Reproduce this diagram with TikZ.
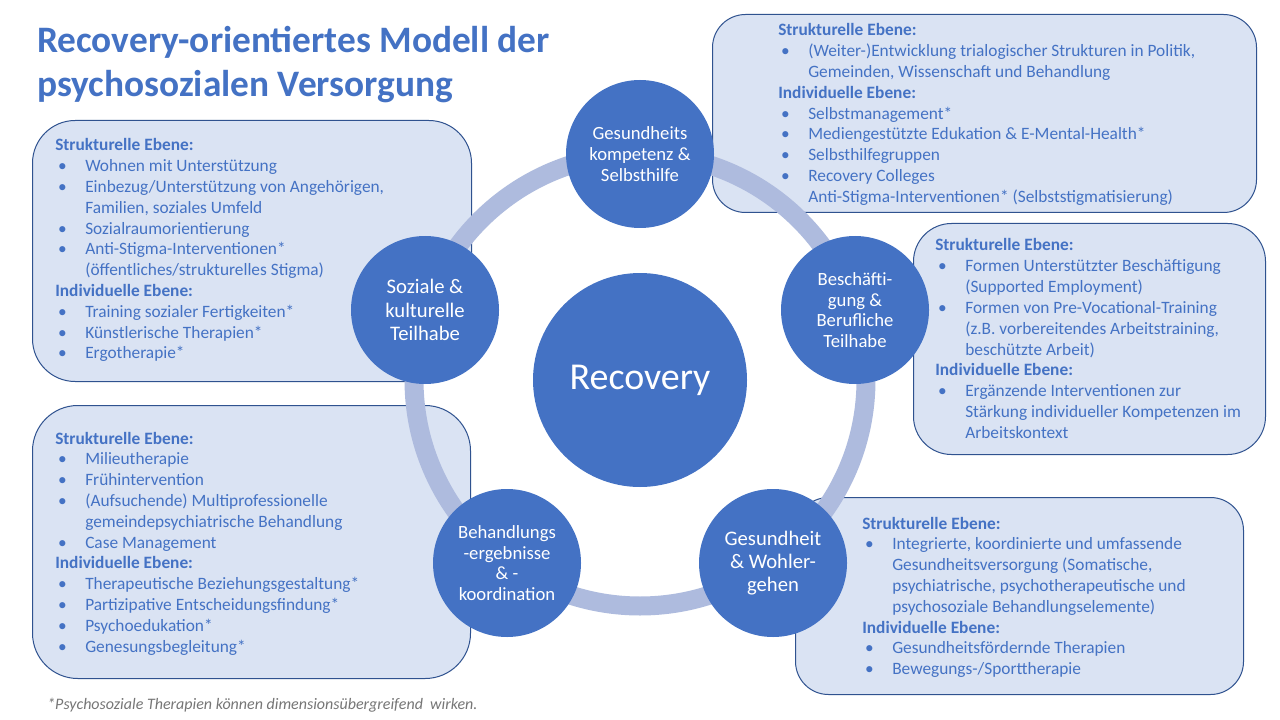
\documentclass[tikz,border=0pt]{standalone}
\usepackage{fontspec}
\setmainfont{Carlito}
\definecolor{circfill}{RGB}{68,114,196}
\definecolor{ringcol}{RGB}{174,187,222}
\definecolor{panelfill}{RGB}{218,227,243}
\definecolor{paneldraw}{RGB}{47,82,143}
\definecolor{textblue}{RGB}{68,114,196}
\definecolor{notegray}{RGB}{118,118,118}
\newcommand{\hd}[1]{\textbf{#1}}
\newcommand{\itm}[1]{\makebox[22.5pt][l]{\hspace{2.2pt}\textbullet}#1}
\newcommand{\cnt}[1]{\hspace*{22.5pt}#1}
\newcommand{\panelbody}[1]{\parbox[t]{480pt}{\fontsize{13}{15.6}\selectfont\raggedright #1}}
\tikzset{
  panel/.style={rectangle, draw=paneldraw, line width=0.75pt, fill=panelfill, anchor=north west, inner sep=0pt},
  paneltext/.style={anchor=base west, inner sep=0pt, text=textblue},
  sat/.style={circle, fill=circfill, text=white, align=center, minimum size=111pt, inner sep=0pt},
  ring/.style={draw=ringcol, line width=14.25pt},
}
\begin{document}
\begin{tikzpicture}[x=0.75pt,y=-0.75pt]
\useasboundingbox (0,0) rectangle (1280,720);
\fill[white] (0,0) rectangle (1280,720);

% title
\node[paneltext] (title) at (37,53) {\parbox[t]{600pt}{\fontsize{28}{33}\selectfont\bfseries Recovery-orientiertes Modell der\\psychosozialen Versorgung}};

% panels
\node[panel, rounded corners=24.75pt, minimum width=408pt, minimum height=148.5pt] (b1) at (712,14) {};
\node[panel, rounded corners=32pt, minimum width=329.25pt, minimum height=195.75pt] (b2) at (32,120) {};
\node[panel, rounded corners=28.5pt, minimum width=264pt, minimum height=173.25pt] (b3) at (913,223) {};
\node[panel, rounded corners=34pt, minimum width=328.5pt, minimum height=204.75pt] (b4) at (32,405) {};
\node[panel, rounded corners=24.75pt, minimum width=336pt, minimum height=147.75pt] (b5) at (795,497) {};

% ring
\coordinate (ctr) at (640,380);
\draw[ring] (ctr) circle[radius=169.5pt];

% panel texts
\node[paneltext] (t1) at (778,36) {\panelbody{%
\hd{Strukturelle Ebene:}\\
\itm{(Weiter-)Entwicklung trialogischer Strukturen in Politik,}\\
\cnt{Gemeinden, Wissenschaft und Behandlung}\\
\hd{Individuelle Ebene:}\\
\itm{Selbstmanagement*}\\
\itm{Mediengestützte Edukation \& E-Mental-Health*}\\
\itm{Selbsthilfegruppen}\\
\itm{Recovery Colleges}\\
\cnt{Anti-Stigma-Interventionen* (Selbststigmatisierung)}}};

\node[paneltext] (t2) at (55,151) {\panelbody{%
\hd{Strukturelle Ebene:}\\
\itm{Wohnen mit Unterstützung}\\
\itm{Einbezug/Unterstützung von Angehörigen,}\\
\cnt{Familien, soziales Umfeld}\\
\itm{Sozialraumorientierung}\\
\itm{Anti-Stigma-Interventionen*}\\
\cnt{(öffentliches/strukturelles Stigma)}\\
\hd{Individuelle Ebene:}\\
\itm{Training sozialer Fertigkeiten*}\\
\itm{Künstlerische Therapien*}\\
\itm{Ergotherapie*}}};

\node[paneltext] (t3) at (935,251) {\panelbody{%
\hd{Strukturelle Ebene:}\\
\itm{Formen Unterstützter Beschäftigung}\\
\cnt{(Supported Employment)}\\
\itm{Formen von Pre-Vocational-Training}\\
\cnt{(z.B. vorbereitendes Arbeitstraining,}\\
\cnt{beschützte Arbeit)}\\
\hd{Individuelle Ebene:}\\
\itm{Ergänzende Interventionen zur}\\
\cnt{Stärkung individueller Kompetenzen im}\\
\cnt{Arbeitskontext}}};

\node[paneltext] (t4) at (55,444) {\panelbody{%
\hd{Strukturelle Ebene:}\\
\itm{Milieutherapie}\\
\itm{Frühintervention}\\
\itm{(Aufsuchende) Multiprofessionelle}\\
\cnt{gemeindepsychiatrische Behandlung}\\
\itm{Case Management}\\
\hd{Individuelle Ebene:}\\
\itm{Therapeutische Beziehungsgestaltung*}\\
\itm{Partizipative Entscheidungsfindung*}\\
\itm{Psychoedukation*}\\
\itm{Genesungsbegleitung*}}};

\node[paneltext] (t5) at (862,529) {\panelbody{%
\hd{Strukturelle Ebene:}\\
\itm{Integrierte, koordinierte und umfassende}\\
\cnt{Gesundheitsversorgung (Somatische,}\\
\cnt{psychiatrische, psychotherapeutische und}\\
\cnt{psychosoziale Behandlungselemente)}\\
\hd{Individuelle Ebene:}\\
\itm{Gesundheitsfördernde Therapien}\\
\itm{Bewegungs-/Sporttherapie}}};

% circles
\node[circle, fill=circfill, text=white, minimum size=160.5pt, inner sep=0pt, font=\fontsize{28.5}{30}\selectfont] (rec) at (ctr) {Recovery};
\node[sat, font=\fontsize{14}{15.5}\selectfont] (c1) at (640,154) {Gesundheits\\kompetenz \&\\Selbsthilfe};
\node[sat, font=\fontsize{14}{15.4}\selectfont] (c2) at (855,310) {Beschäfti-\\gung \&\\Berufliche\\Teilhabe};
\node[sat, font=\fontsize{15.5}{17.5}\selectfont] (c3) at (773,563) {Gesundheit\\\& Wohler-\\gehen};
\node[sat, font=\fontsize{14}{15.3}\selectfont] (c4) at (507,563) {Behandlungs\\-ergebnisse\\\& -\\koordination};
\node[sat, font=\fontsize{15.5}{17.5}\selectfont] (c5) at (425,310) {Soziale \&\\kulturelle\\Teilhabe};

% footnote
\node[anchor=base west, inner sep=0pt, text=notegray, font=\fontsize{12}{14}\selectfont\itshape] (fn) at (47,709) {*Psychosoziale Therapien können dimensionsübergreifend\ \ wirken.};
\end{tikzpicture}
\end{document}
